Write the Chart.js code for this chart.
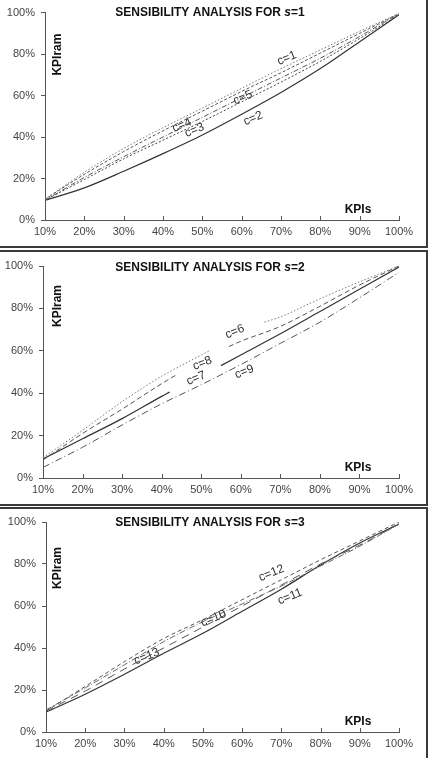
<!DOCTYPE html>
<html>
<head>
<meta charset="utf-8">
<script src="https://cdn.jsdelivr.net/npm/chart.js@4.4.1/dist/chart.umd.min.js"></script>
<style>
    body { margin: 0; background: #fff; width: 430px; height: 758px; overflow: hidden; position: relative; }
    .frame { position: absolute; left: -2px; width: 430px; border: 2px solid #3a3a3a; box-sizing: border-box; }
    canvas { position: absolute; left: 0; }
</style>
</head>
<body>
<div class="frame" style="top:-2px;height:250px"></div>
<div class="frame" style="top:250px;height:256px"></div>
<div class="frame" style="top:507px;height:300px"></div>
<canvas id="s1" width="426" height="246" style="top:0"></canvas>
<canvas id="s2" width="426" height="252" style="top:252px"></canvas>
<canvas id="s3" width="426" height="249" style="top:509px"></canvas>
<script>
// Axis ticks (KPIs on x, KPIram on y)
const xTickValues = [10, 20, 30, 40, 50, 60, 70, 80, 90, 100];
const yTickValues = [0, 20, 40, 60, 80, 100];

// s=1 : every curve uses the same KPIs grid
const kpis = [10, 20, 30, 40, 50, 60, 70, 80, 90, 100];
const s1c1 = [10, 23, 34.5, 44.5, 54, 63.5, 73, 82, 91, 99.5];
const s1c4 = [10, 22, 33, 43, 52.5, 62, 71, 80.5, 90, 99.5];
const s1c5 = [9.5, 20.5, 30.5, 40, 49.5, 59, 68.5, 78, 88.5, 99.5];
const s1c3 = [9.5, 19.5, 29.5, 38.5, 47.5, 57, 66.5, 76.5, 87.5, 99];
const s1c2 = [9.5, 15.5, 23.5, 32, 41, 51, 61.5, 73, 86, 99];

// s=2 : curves are broken where their label sits (null = gap)
const s2c6X = [10, 20, 30, 40, 50, 52, 59, 66, 70, 80, 90, 100];
const s2c6 = [9.5, 22.5, 36, 48, 58, 60, null, 73.5, 76, 84.5, 92.5, 100];
const s2c8X = [10, 20, 30, 40, 44, 50, 57, 60, 70, 80, 90, 100];
const s2c8 = [8.5, 21, 32.5, 44.5, 49, null, 62, 64.5, 71.5, 81, 91, 100];
const s2c7X = [10, 20, 30, 40, 42, 48, 55, 60, 70, 80, 90, 100];
const s2c7 = [9, 18.5, 28, 38.5, 40.5, null, 53, 58, 68, 78.5, 89, 99.5];
const s2c9X = [10, 20, 30, 40, 50, 60, 70, 80, 90, 100];
const s2c9 = [5, 14.5, 25, 35, 44, 53.5, 63.5, 73.5, 85, 97];

// s=3
const s3c12 = [10, 21.7, 33.5, 44.5, 53.5, 63, 72.5, 82, 91, 100];
const s3c13 = [10.5, 21, 32, 43, 52.5, 61, 69.5, 79, 88.5, 99];
const s3c10 = [10, 19.5, 30, 40, 50, 60, 70, 80, 89, 99];
const s3c11 = [9.5, 18, 27.5, 37.5, 47, 57.5, 68, 79.5, 90, 99];

// Curve names written along the lines (data coordinates)
const labelsS1 = [
    { text: "c=1", x: 71.5, y: 78 },
    { text: "c=5", x: 60.3, y: 59 },
    { text: "c=4", x: 44.8, y: 45.7 },
    { text: "c=3", x: 48, y: 43.3 },
    { text: "c=2", x: 62.9, y: 49 },
];
const labelsS2 = [
    { text: "c=6", x: 58.5, y: 69 },
    { text: "c=8", x: 50.3, y: 54.1 },
    { text: "c=7", x: 48.7, y: 47 },
    { text: "c=9", x: 60.9, y: 50.1 },
];
const labelsS3 = [
    { text: "c=12", x: 67.5, y: 75.6 },
    { text: "c=10", x: 52.7, y: 54.1 },
    { text: "c=11", x: 72.2, y: 64.4 },
    { text: "c=13", x: 35.7, y: 35.9 },
];

const FONT = "'Liberation Sans', Arial, sans-serif";

function pairs(xs, ys) {
    return xs.map((x, i) => ({ x: x, y: ys[i] }));
}

function line(xs, ys, color, dash, width) {
    return {
        data: pairs(xs, ys),
        borderColor: color,
        borderDash: dash,
        borderWidth: width || 1,
        pointRadius: 0,
        fill: false,
        spanGaps: false,
        cubicInterpolationMode: "monotone",
    };
}

// Title, axis names, curve labels and inward x ticks
const decorPlugin = {
    id: "decor",
    afterDraw(chart, args, opts) {
        const { ctx, chartArea: a, scales } = chart;
        ctx.save();

        ctx.strokeStyle = "#555";
        ctx.lineWidth = 1;
        xTickValues.forEach(v => {
            const px = Math.round(scales.x.getPixelForValue(v)) + 0.5;
            ctx.beginPath();
            ctx.moveTo(px, a.bottom);
            ctx.lineTo(px, a.bottom - 4);
            ctx.stroke();
        });

        // Title with italic s
        ctx.fillStyle = "#111";
        ctx.textBaseline = "middle";
        ctx.textAlign = "left";
        const parts = [
            ["bold 12px " + FONT, "SENSIBILITY ANALYSIS FOR "],
            ["italic bold 12px " + FONT, "s"],
            ["bold 12px " + FONT, "=" + opts.s],
        ];
        let total = 0;
        parts.forEach(p => { ctx.font = p[0]; total += ctx.measureText(p[1]).width; });
        let tx = 210 - total / 2;
        const ty = a.top + opts.titleDy;
        parts.forEach(p => {
            ctx.font = p[0];
            ctx.fillText(p[1], tx, ty);
            tx += ctx.measureText(p[1]).width;
        });

        ctx.font = "bold 12px " + FONT;
        ctx.textAlign = "center";
        ctx.fillText("KPIs", 358, a.bottom - 10);

        ctx.save();
        ctx.translate(58, a.top + opts.yNameDy);
        ctx.rotate(-Math.PI / 2);
        ctx.fillText("KPIram", 0, 0);
        ctx.restore();

        ctx.font = "12px " + FONT;
        ctx.fillStyle = "#333";
        opts.labels.forEach(l => {
            ctx.save();
            ctx.translate(scales.x.getPixelForValue(l.x), scales.y.getPixelForValue(l.y));
            ctx.rotate(-22 * Math.PI / 180);
            ctx.fillText(l.text, 0, 0);
            ctx.restore();
        });

        ctx.restore();
    },
};

function makePanel(id, s, datasets, labels, box) {
    const ctx = document.getElementById(id).getContext("2d");
    return new Chart(ctx, {
        type: "line",
        data: { datasets: datasets },
        plugins: [decorPlugin],
        options: {
            responsive: false,
            animation: false,
            layout: { padding: { top: box.top, right: 426 - 399, bottom: 0, left: 0 } },
            plugins: {
                legend: { display: false },
                tooltip: { enabled: false },
                decor: { s: s, labels: labels, titleDy: box.titleDy, yNameDy: box.yNameDy },
            },
            scales: {
                x: {
                    type: "linear",
                    min: 10,
                    max: 100,
                    afterBuildTicks: sc => { sc.ticks = xTickValues.map(v => ({ value: v })); },
                    afterFit: sc => { sc.height = box.xHeight; },
                    grid: { display: false, drawTicks: false },
                    border: { display: true, color: "#555", width: 1 },
                    ticks: {
                        padding: 5,
                        color: "#444",
                        font: { family: FONT, size: 11 },
                        maxRotation: 0,
                        autoSkip: false,
                        callback: v => v + "%",
                    },
                },
                y: {
                    min: 0,
                    max: 100,
                    afterBuildTicks: sc => { sc.ticks = yTickValues.map(v => ({ value: v })); },
                    afterFit: sc => { sc.width = box.left; },
                    grid: { drawOnChartArea: false, drawTicks: true, tickLength: 4, color: "#555" },
                    border: { display: true, color: "#555", width: 1 },
                    ticks: {
                        padding: 6,
                        color: "#444",
                        font: { family: FONT, size: 11 },
                        callback: v => v + "%",
                    },
                },
            },
        },
    });
}

makePanel("s1", 1, [
    line(kpis, s1c1, "#777", [1.5, 2]),
    line(kpis, s1c4, "#555", [3, 2]),
    line(kpis, s1c5, "#555", [5, 2, 1, 2]),
    line(kpis, s1c3, "#444", [2, 2]),
    line(kpis, s1c2, "#333", [], 1.2),
], labelsS1, { top: 12, left: 45, xHeight: 26, titleDy: 0, yNameDy: 42 });

makePanel("s2", 2, [
    line(s2c6X, s2c6, "#777", [1.5, 2]),
    line(s2c8X, s2c8, "#555", [5, 3]),
    line(s2c7X, s2c7, "#333", [], 1.2),
    line(s2c9X, s2c9, "#555", [7, 3, 1, 3]),
], labelsS2, { top: 14, left: 43, xHeight: 26, titleDy: 2, yNameDy: 40 });

makePanel("s3", 3, [
    line(kpis, s3c12, "#555", [4, 3]),
    line(kpis, s3c13, "#666", [6, 2, 1, 2]),
    line(kpis, s3c10, "#555", [8, 6]),
    line(kpis, s3c11, "#333", [], 1.2),
], labelsS3, { top: 13, left: 46, xHeight: 26, titleDy: 1, yNameDy: 46 });
</script>
</body>
</html>
